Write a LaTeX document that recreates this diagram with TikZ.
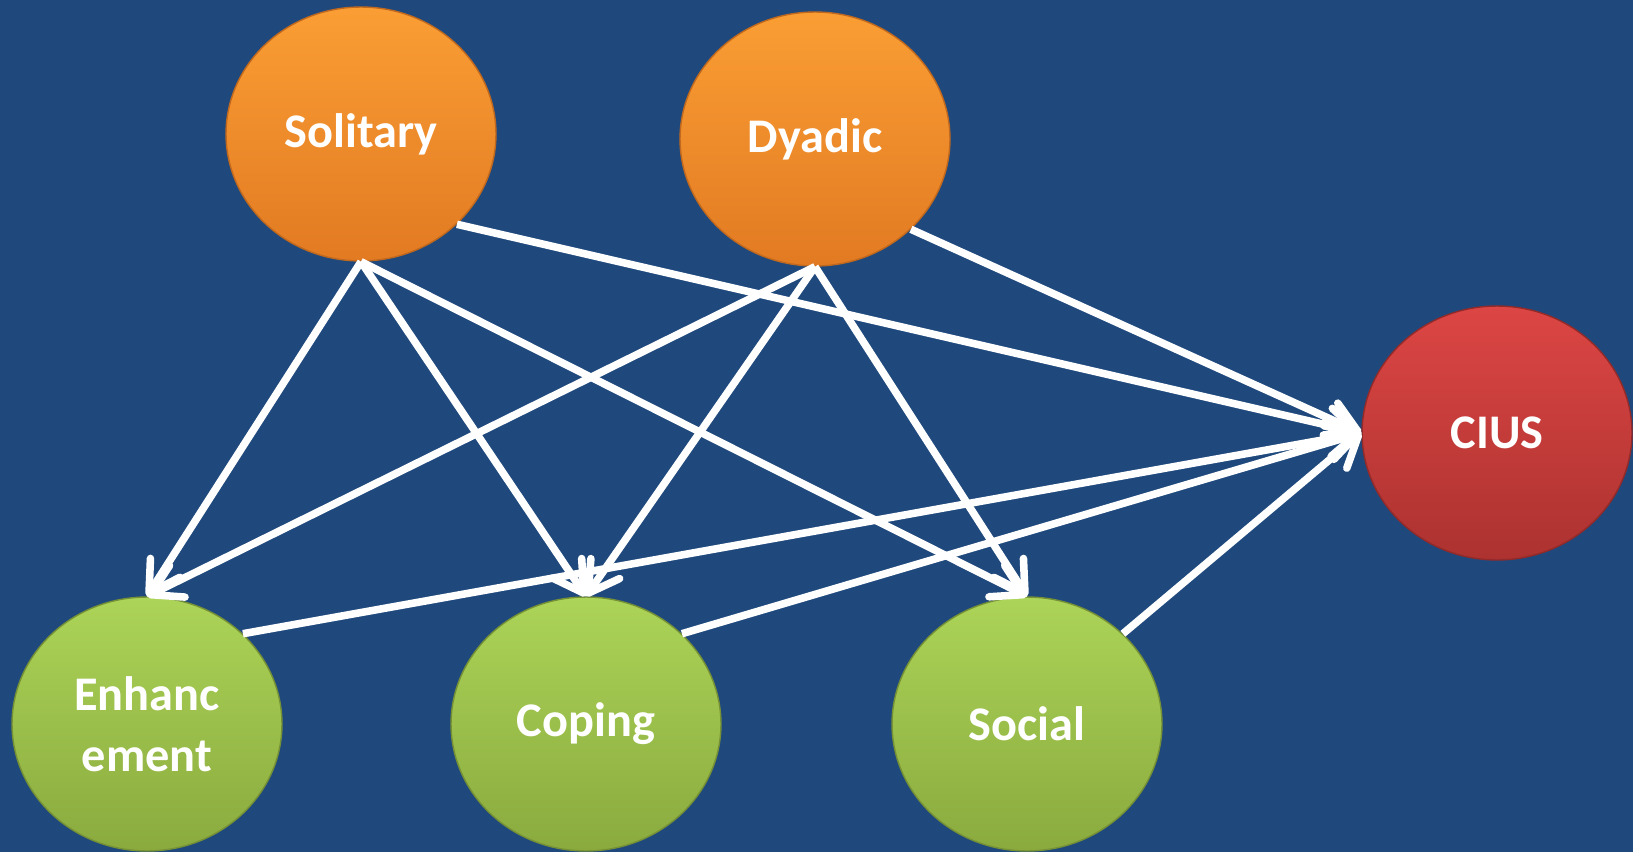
\documentclass[tikz,border=0pt]{standalone}
\usepackage{fontspec}
\setmainfont{Carlito}
\usetikzlibrary{arrows.meta,shapes.geometric}

\definecolor{slide}{RGB}{31,73,125}
\definecolor{orangetop}{RGB}{250,158,52}
\definecolor{orangebot}{RGB}{226,122,34}
\definecolor{greentop}{RGB}{172,212,88}
\definecolor{greenbot}{RGB}{138,170,62}
\definecolor{redtop}{RGB}{220,70,68}
\definecolor{redbot}{RGB}{172,50,48}

\begin{document}
\begin{tikzpicture}[x=0.02cm,y=-0.02cm,
    bubble/.style={ellipse, inner sep=0pt, minimum width=5.4cm, minimum height=5.08cm,
      align=center, text=white, line width=0.8pt,
      font=\bfseries\fontsize{27.5}{35}\selectfont},
    context/.style={bubble, top color=orangetop, bottom color=orangebot, draw=orangebot!85!black},
    motive/.style={bubble, top color=greentop, bottom color=greenbot, draw=greenbot!85!black},
    outcome/.style={bubble, top color=redtop, bottom color=redbot, draw=redbot!85!black},
    link/.style={draw=white, line width=4.3pt,
      -{Straight Barb[length=6mm,width=7mm,round]}}]

  % Slide background
  \fill[slide] (0,0) rectangle (1633,852);

  % Drinking contexts
  \node[context] (Solitary) at (361,134) {Solitary};
  \node[context] (Dyadic)   at (815,139) {Dyadic};

  % Motives
  \node[motive] (Enh)    at (147,724) {Enhanc\\ement};
  \node[motive] (Coping) at (586,724) {Coping};
  \node[motive] (Social) at (1027,724) {Social};

  % Outcome
  \node[outcome] (CIUS) at (1497,433) {CIUS};

  % Contexts to motives
  \foreach \src in {Solitary,Dyadic} {
    \foreach \dst in {Enh,Coping,Social} {
      \draw[link] (\src.south) -- (\dst.north);
    }
  }

  % Everything to CIUS
  \foreach \src/\anc in {Solitary/south east, Dyadic/south east,
    Enh/north east, Coping/north east, Social/north east} {
    \draw[link] (\src.\anc) -- (CIUS.west);
  }
\end{tikzpicture}
\end{document}
